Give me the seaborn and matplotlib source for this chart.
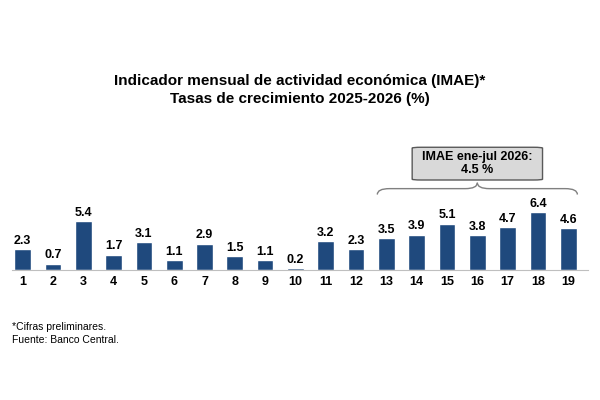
import matplotlib
matplotlib.use("Agg")
import matplotlib.pyplot as plt
import seaborn as sns
import pandas as pd
from matplotlib.path import Path
from matplotlib.patches import PathPatch, FancyBboxPatch

months = [str(i) for i in range(1, 20)]
values = [2.3, 0.7, 5.4, 1.7, 3.1, 1.1, 2.9, 1.5, 1.1, 0.2, 3.2, 2.3, 3.5, 3.9, 5.1, 3.8, 4.7, 6.4, 4.6]
df = pd.DataFrame({"mes": months, "valor": values})

sns.set_style("white")
plt.rcParams['font.family'] = ['Liberation Sans', 'DejaVu Sans']
plt.rcParams['text.color'] = 'black'
plt.rcParams['xtick.color'] = 'black'
fig = plt.figure(figsize=(6, 4), dpi=100)
ax = fig.add_axes([0.02, 0.325, 0.96, 0.325])
sns.barplot(data=df, x="mes", y="valor", color="#1f497d", width=0.55, saturation=1, ax=ax)
ax.set_ylim(0, 14.3)
ax.set_xlim(-0.35, 18.65)
for s in ["top", "right", "left"]:
    ax.spines[s].set_visible(False)
ax.spines["bottom"].set_color("#bfbfbf")
ax.set_yticks([])
ax.set_xlabel(""); ax.set_ylabel("")
ax.tick_params(axis="x", length=0, pad=4)
for t in ax.get_xticklabels():
    t.set_fontweight("bold"); t.set_fontsize(9)
for i, v in enumerate(values):
    ax.text(i, v + 0.25, f"{v}", ha="center", va="bottom", fontsize=9, fontweight="bold")

# brace
x0, x1, xm = 11.7, 18.3, 15.0
yb, ym = 8.3, 9.6
yc = (yb + ym) / 2
codes = [Path.MOVETO, Path.CURVE3, Path.CURVE3, Path.LINETO,
         Path.CURVE3, Path.CURVE3, Path.CURVE3, Path.CURVE3, Path.LINETO,
         Path.CURVE3, Path.CURVE3, Path.CURVE3, Path.CURVE3]
verts = [(x0, yb), (x0, yc), (x0 + 0.4, yc), (xm - 0.4, yc),
         (xm, yc), (xm, ym), (xm, yc), (xm + 0.4, yc), (x1 - 0.4, yc),
         (x1, yc), (x1, yb), (x1, yb), (x1, yb)]
ax.add_patch(PathPatch(Path(verts, codes), fill=False, ec="#808080", lw=1, clip_on=False))

box = FancyBboxPatch((12.85, 9.9), 4.3, 3.6, boxstyle="round,pad=0,rounding_size=0.3",
                     fc="#d9d9d9", ec="#595959", lw=1, clip_on=False, mutation_aspect=1 / 3.3)
ax.add_patch(box)
ax.text(15.0, 11.7, "IMAE ene-jul 2026:\n4.5 %", ha="center", va="center",
        fontsize=9, fontweight="bold", linespacing=1.1)

fig.text(0.5, 0.775, "Indicador mensual de actividad económica (IMAE)*\nTasas de crecimiento 2025-2026 (%)",
         ha="center", va="center", fontsize=11, fontweight="bold", linespacing=1.3)
fig.text(0.02, 0.167, "*Cifras preliminares.\nFuente: Banco Central.", ha="left", va="center",
         fontsize=7.5, linespacing=1.4)
fig.savefig("out.png", dpi=100, facecolor="white")
